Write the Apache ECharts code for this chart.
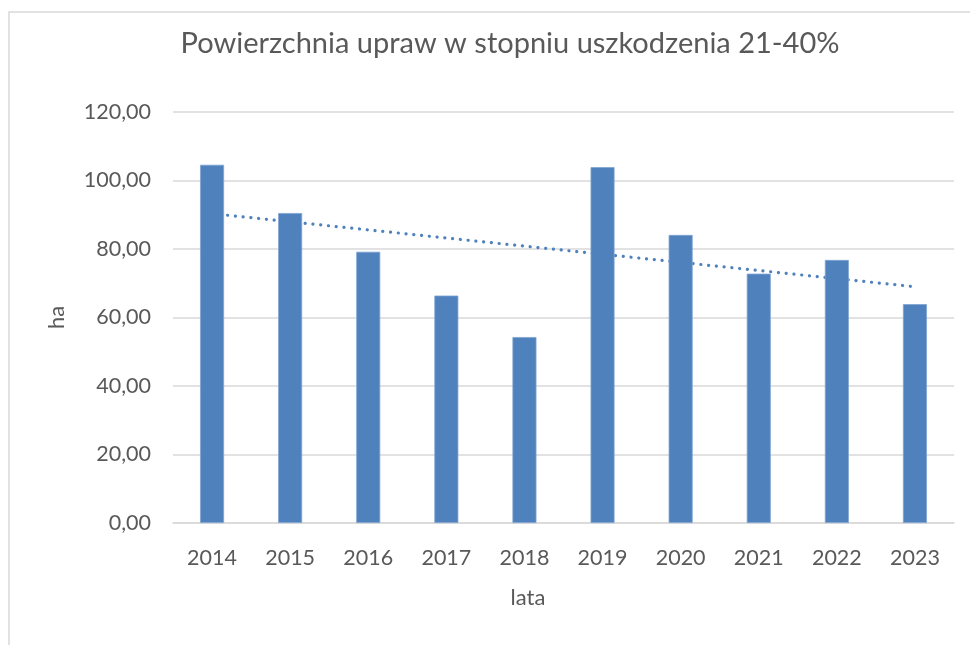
<!DOCTYPE html>
<html>
<head>
<meta charset="utf-8">
<script src="https://cdn.jsdelivr.net/npm/echarts@6/dist/echarts.min.js"></script>
<style>
html,body{margin:0;padding:0;background:#fff;}
#chart{width:970px;height:645px;}
</style>
</head>
<body>
<div id="chart"></div>
<script>
var years = ['2014','2015','2016','2017','2018','2019','2020','2021','2022','2023'];
var areaHa = [104.6, 90.5, 79.2, 66.4, 54.3, 103.9, 84.1, 72.8, 76.8, 63.9];
var yTicks = [0, 20, 40, 60, 80, 100, 120];
var titleText = 'Powierzchnia upraw w stopniu uszkodzenia 21-40%';
var xName = 'lata';
var yName = 'ha';

// linear trendline (least squares) from the bar values
function linearTrend(vals) {
  var n = vals.length, sx = 0, sy = 0, sxy = 0, sxx = 0;
  for (var i = 0; i < n; i++) { var x = i + 1; sx += x; sy += vals[i]; sxy += x * vals[i]; sxx += x * x; }
  var b = (n * sxy - sx * sy) / (n * sxx - sx * sx);
  var a = (sy - b * sx) / n;
  return vals.map(function (v, i) { return +(a + b * (i + 1)).toFixed(3); });
}
var trend = linearTrend(areaHa);

var FONT = 'Lato';
var TXT = '#595959';
var chart = echarts.init(document.getElementById('chart'), null, {renderer: 'canvas'});
chart.setOption({
  animation: false,
  backgroundColor: '#ffffff',
  title: {
    text: titleText,
    left: 505, top: 24, textAlign: 'center',
    textStyle: {fontFamily: FONT, fontSize: 29, fontWeight: 'normal', color: TXT}
  },
  graphic: [
    {type: 'rect', shape: {x: 9, y: 12, width: 1000, height: 700}, style: {fill: 'none', stroke: '#d9d9d9', lineWidth: 1.5}, silent: true, z: -1},
    {type: 'text', x: 528, y: 598, style: {text: xName, fontFamily: FONT, fontSize: 22, fill: TXT, align: 'center', verticalAlign: 'middle'}}
  ],
  grid: {left: 173, right: 16, top: 112, bottom: 122},
  xAxis: {
    type: 'category',
    data: years,
    axisLine: {show: true, lineStyle: {color: '#d9d9d9', width: 1.5}},
    axisTick: {show: false},
    axisLabel: {fontFamily: FONT, fontSize: 21.5, color: TXT, margin: 24}
  },
  yAxis: {
    type: 'value',
    min: 0, max: 120, interval: 20,
    name: yName,
    nameLocation: 'middle',
    nameGap: 105,
    nameRotate: 90,
    nameTextStyle: {fontFamily: FONT, fontSize: 22, color: TXT},
    axisLine: {show: false},
    axisTick: {show: false},
    splitLine: {lineStyle: {color: '#d9d9d9', width: 1.5}},
    axisLabel: {
      fontFamily: FONT, fontSize: 21.5, color: TXT, margin: 22,
      formatter: function (v) { return v.toFixed(2).replace('.', ','); }
    }
  },
  series: [
    {
      type: 'line',
      data: trend,
      symbol: 'none',
      z: 1,
      lineStyle: {color: '#4f81bd', width: 3.2, type: [0.1, 7.7], cap: 'round'},
      silent: true
    },
    {
      type: 'bar',
      data: areaHa,
      barWidth: 24,
      z: 2,
      itemStyle: {color: '#4f81bd', borderColor: '#7fa3d2', borderWidth: 0.8}
    }
  ]
});
</script>
</body>
</html>
